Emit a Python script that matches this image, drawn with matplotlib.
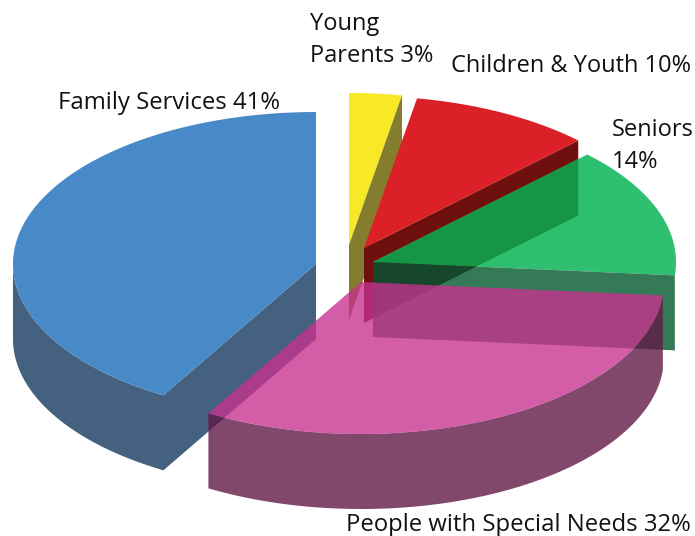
import numpy as np
import matplotlib
matplotlib.use("Agg")
import matplotlib.pyplot as plt
from matplotlib.patches import Polygon

# slice sizes (labels show the rounded values)
names = ["Young Parents", "Children & Youth", "Seniors", "People with Special Needs", "Family Services"]
slice_sizes = [2.8, 9.7, 13.9, 32.0, 41.6]
labels = ["Young\nParents 3%", "Children & Youth 10%", "Seniors\n14%",
          "People with Special Needs 32%", "Family Services 41%"]

# exploded centre of every slice, in pixels
centre_x = [349, 364, 373, 361, 316]
centre_y = [245, 248, 262, 282, 264]
label_x = [310, 451, 612, 346, 58]
label_y = [62, 72, 168, 531, 109]
label_size = [17, 17, 17, 17.2, 17.2]

top_colors = ["#f8e926", "#dc2027", "#2fbf71", "#c8318f", "#478ac7"]
side_colors = ["#847d2e", "#6f100f", "#357a57", "#631a46", "#44617f"]

RX, RY, DEPTH = 303, 152, 75

plt.rcParams["font.family"] = ["Open Sans", "DejaVu Sans"]

fig = plt.figure(figsize=(6.95, 5.36), dpi=100)
ax = fig.add_axes([0, 0, 1, 1])
ax.set_xlim(0, 695)
ax.set_ylim(536, 0)
ax.axis("off")


def rim(cx, cy, a0, a1, drop=0):
    t = np.radians(np.linspace(a0, a1, 120))
    return np.column_stack([cx + RX * np.sin(t), cy - RY * np.cos(t) + drop])


def face(points, color, z, alpha=1.0):
    p = Polygon(points, closed=True, facecolor=color, edgecolor="none", lw=0, alpha=alpha, zorder=z)
    ax.add_patch(p)
    return p


def wall(cx, cy, ang):
    # flat cut wall going from the centre out to the rim at ang
    e = rim(cx, cy, ang, ang)[0]
    return [(cx, cy), tuple(e), (e[0], e[1] + DEPTH), (cx, cy + DEPTH)]


def outer_wall(cx, cy, a0, a1):
    return np.vstack([rim(cx, cy, a0, a1), rim(cx, cy, a0, a1, DEPTH)[::-1]])


edges = np.concatenate([[0], np.cumsum(slice_sizes)]) * 3.6
ang0 = edges[:-1]
ang1 = edges[1:]


def top_face(i):
    return np.vstack([[(centre_x[i], centre_y[i])], rim(centre_x[i], centre_y[i], ang0[i], ang1[i])])


# family services, cut wall and outer wall as one shape so no seam shows
cx, cy = centre_x[4], centre_y[4]
face(np.vstack([[(cx, cy)], rim(cx, cy, ang0[4], 270), rim(cx, cy, ang0[4], 270, DEPTH)[::-1], [(cx, cy + DEPTH)]]),
     side_colors[4], 1)
face(top_face(4), top_colors[4], 2)

# young parents
face(top_face(0), top_colors[0], 3)
face(wall(centre_x[0], centre_y[0], ang1[0]), side_colors[0], 3.5)

# seniors
green_top = face(top_face(2), top_colors[2], 4)
green_wall = face(wall(centre_x[2], centre_y[2], ang1[2]), side_colors[2], 4)

# children & youth, its cut wall shows through the seniors slice
red_wall = wall(centre_x[1], centre_y[1], ang1[1])
face(red_wall, side_colors[1], 3.8)
over_top = face(red_wall, "#149645", 5)
over_top.set_clip_path(green_top)
over_wall = face(red_wall, "#16472a", 5)
over_wall.set_clip_path(green_wall)
face(top_face(1), top_colors[1], 6)

# people with special needs, see-through on top of everything
face(outer_wall(centre_x[3], centre_y[3], ang0[3], ang1[3]), side_colors[3], 7, alpha=0.8)
face(top_face(3), top_colors[3], 8, alpha=0.79)

for i in range(len(names)):
    ax.text(label_x[i], label_y[i], labels[i], fontsize=label_size[i], color="#111111", ha="left", va="baseline",
            linespacing=1.42, zorder=10)

fig.savefig("out.png", dpi=100)
